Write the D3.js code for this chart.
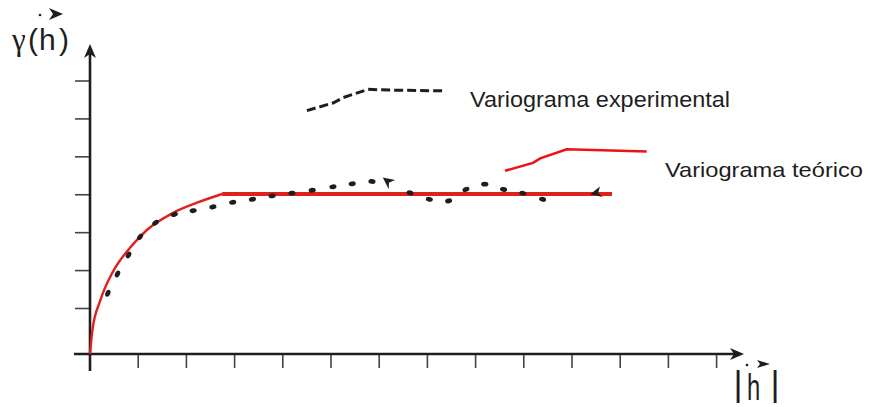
<!DOCTYPE html>
<html>
<head>
<meta charset="utf-8">
<script src="https://cdn.jsdelivr.net/npm/d3@7"></script>
<style>
  html, body { margin: 0; padding: 0; background: #fff; }
  svg { display: block; }
</style>
</head>
<body>
<svg id="chart" width="869" height="407"></svg>
<script>
// Tick positions (in lag / semivariance units)
const xTicks = [1, 2, 3, 4, 5, 6, 7, 8, 9, 10, 11, 12, 13];
const yTicks = [1.2, 2.2, 3.2, 4.2, 5.2, 6.2, 7.2];

// Experimental variogram (dots)
const expH = [0.37, 0.57, 0.80, 1.04, 1.36, 1.75, 2.14, 2.55, 2.96, 3.37, 3.78, 4.19, 4.61, 5.04, 5.44, 5.85,
              6.64, 7.04, 7.44, 7.80, 8.19, 8.58, 8.98, 9.39];
const expG = [1.60, 2.11, 2.61, 3.09, 3.46, 3.68, 3.78, 3.88, 4.00, 4.08, 4.17, 4.24, 4.32, 4.41, 4.49, 4.55,
              4.25, 4.08, 4.04, 4.34, 4.48, 4.34, 4.24, 4.08];
// stray arrowhead marks on the experimental curve
const markH = [6.17, 10.50];
const markG = [4.55, 4.24];

// Theoretical model: rising part and sill
const modelH = [0, 0.05, 0.21, 0.48, 0.83, 1.18, 1.72, 2.22, 2.74];
const modelG = [0, 0.63, 1.40, 2.18, 2.80, 3.27, 3.72, 3.99, 4.22];
const sillFrom = 2.74, sillTo = 10.83, sill = 4.22;

// Legend samples
const legExpH = [4.50, 5.04, 5.25, 5.77, 6.22, 7.32];
const legExpG = [6.42, 6.62, 6.76, 6.98, 6.96, 6.94];
const legTeoH = [8.61, 9.19, 9.34, 9.89, 11.55];
const legTeoG = [4.83, 5.04, 5.16, 5.40, 5.34];
const legendLabels = ["Variograma experimental", "Variograma teórico"];

const svg = d3.select("#chart");
const ox = 90, oy = 354;
const x = d3.scaleLinear().domain([0, 13]).range([ox, 716.6]);
const y = d3.scaleLinear().domain([0, 7.2]).range([oy, 81]);

const ink = "#1e1e1e";
const red = "#e0201c";

// Axes
svg.append("g").selectAll("line")
  .data(xTicks).join("line")
  .attr("x1", d => x(d)).attr("x2", d => x(d))
  .attr("y1", oy).attr("y2", oy + 14)
  .attr("stroke", "#444").attr("stroke-width", 1.6);

svg.append("g").selectAll("line")
  .data(yTicks).join("line")
  .attr("x1", ox - 15).attr("x2", ox)
  .attr("y1", d => y(d)).attr("y2", d => y(d))
  .attr("stroke", "#444").attr("stroke-width", 1.6);

svg.append("line")
  .attr("x1", 74).attr("x2", 736).attr("y1", oy).attr("y2", oy)
  .attr("stroke", ink).attr("stroke-width", 2.6);
svg.append("line")
  .attr("x1", ox).attr("x2", ox).attr("y1", 371).attr("y2", 52)
  .attr("stroke", ink).attr("stroke-width", 2.6);

// arrowheads
svg.append("path")
  .attr("d", "M0,0 L-6,14 L0,10 L6,14 Z")
  .attr("transform", `translate(${ox},44)`)
  .attr("fill", ink);
svg.append("path")
  .attr("d", "M0,0 L-14,-6 L-10,0 L-14,6 Z")
  .attr("transform", `translate(744,${oy})`)
  .attr("fill", ink);

// Model curve
const modelPts = modelH.map((h, i) => [h, modelG[i]]);
svg.append("path")
  .datum(modelPts)
  .attr("d", d3.line().x(d => x(d[0])).y(d => y(d[1])).curve(d3.curveMonotoneX))
  .attr("fill", "none").attr("stroke", red).attr("stroke-width", 2.4);

svg.append("line")
  .attr("x1", x(sillFrom)).attr("x2", x(sillTo))
  .attr("y1", y(sill)).attr("y2", y(sill))
  .attr("stroke", red).attr("stroke-width", 4);

// Experimental dots (small ellipses oriented along the curve)
const expPts = expH.map((h, i) => [x(h), y(expG[i])]);
svg.append("g").selectAll("ellipse")
  .data(expPts).join("ellipse")
  .attr("cx", d => d[0]).attr("cy", d => d[1])
  .attr("rx", 3.6).attr("ry", 2.4)
  .attr("transform", (d, i) => {
    const a = expPts[Math.max(0, i - 1)], b = expPts[Math.min(expPts.length - 1, i + 1)];
    const ang = Math.atan2(b[1] - a[1], b[0] - a[0]) * 180 / Math.PI;
    return `rotate(${ang},${d[0]},${d[1]})`;
  })
  .attr("fill", ink);

// arrowhead-like marks (pointing left)
svg.append("g").selectAll("path")
  .data(markH).join("path")
  .attr("d", "M-6,0 L5,-6 L2,0 L6,5 Z")
  .attr("transform", (d, i) => `translate(${x(d)},${y(markG[i])}) rotate(${i === 0 ? 40 : -10})`)
  .attr("fill", ink);

// Legend samples
svg.append("path")
  .datum(legExpH.map((h, i) => [h, legExpG[i]]))
  .attr("d", d3.line().x(d => x(d[0])).y(d => y(d[1])))
  .attr("fill", "none").attr("stroke", ink).attr("stroke-width", 3)
  .attr("stroke-dasharray", "9,4");

svg.append("path")
  .datum(legTeoH.map((h, i) => [h, legTeoG[i]]))
  .attr("d", d3.line().x(d => x(d[0])).y(d => y(d[1])))
  .attr("fill", "none").attr("stroke", "#f01010").attr("stroke-width", 2.6);

const font = "'Liberation Sans', Arial, sans-serif";
svg.append("text")
  .attr("x", 470).attr("y", 107)
  .attr("textLength", 260).attr("lengthAdjust", "spacingAndGlyphs")
  .style("font-family", font).style("font-size", "22px").style("fill", ink)
  .text(legendLabels[0]);
svg.append("text")
  .attr("x", 665).attr("y", 177)
  .attr("textLength", 198).attr("lengthAdjust", "spacingAndGlyphs")
  .style("font-family", font).style("font-size", "21px").style("fill", ink)
  .text(legendLabels[1]);

// Y axis label γ(h)
const yl = svg.append("text").attr("y", 50).style("fill", ink).style("font-family", font).style("font-size", "30px");
yl.append("tspan").attr("x", 12).style("font-family", "'Liberation Serif', serif").style("font-size", "31px").text("γ");
yl.append("tspan").attr("x", 28).text("(");
yl.append("tspan").attr("x", 39).text("h");
yl.append("tspan").attr("x", 59).text(")");
svg.append("circle").attr("cx", 40).attr("cy", 15).attr("r", 1.3).attr("fill", ink);
svg.append("path").attr("d", "M0,-6 L14,0 L0,6 L4,0 Z").attr("transform", "translate(49,14)").attr("fill", ink);

// X axis label |h|
svg.append("text")
  .attr("x", 733.6).attr("y", 396)
  .style("fill", ink).style("font-family", font).style("font-size", "35px")
  .text("|");
svg.append("text")
  .attr("x", 770.6).attr("y", 396)
  .style("fill", ink).style("font-family", font).style("font-size", "35px")
  .text("|");
svg.append("text")
  .attr("transform", "translate(747,400) scale(0.66,1)")
  .style("fill", ink).style("font-family", font).style("font-size", "36px")
  .text("h");
svg.append("circle").attr("cx", 747).attr("cy", 365).attr("r", 1.3).attr("fill", ink);
svg.append("path").attr("d", "M0,-4 L13,0 L0,4 L3,0 Z").attr("transform", "translate(757,364)").attr("fill", ink);
</script>
</body>
</html>
